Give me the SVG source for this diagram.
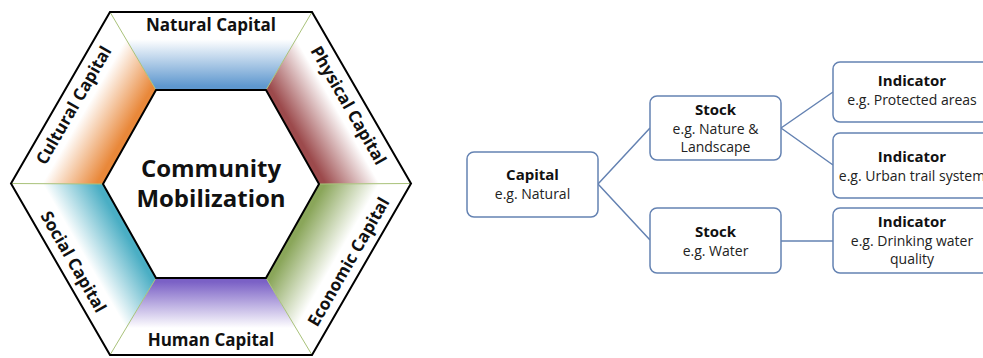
<svg xmlns="http://www.w3.org/2000/svg" width="983" height="358" viewBox="0 0 983 358">
<style>
.band{stroke:none}
.radial{stroke:#a9c27a;stroke-width:1;fill:none}
.hex{fill:none;stroke:#000;stroke-width:2;stroke-linejoin:miter}
.lbl{font-family:"Open Sans","Liberation Sans",sans-serif;font-weight:bold;font-size:17px;fill:#111;text-anchor:middle}
.big{font-family:"Open Sans","Liberation Sans",sans-serif;font-weight:bold;font-size:24px;fill:#111;text-anchor:middle}
.box{fill:#fff;stroke:#6482b2;stroke-width:1.5}
.conn{stroke:#6482b2;stroke-width:1.5;fill:none}
.t{font-family:"Open Sans","Liberation Sans",sans-serif;font-size:14px;fill:#222;text-anchor:middle}
.tb{font-family:"Open Sans","Liberation Sans",sans-serif;font-size:15px;font-weight:bold;fill:#111;text-anchor:middle}
</style>
<defs>
<linearGradient id="gTop" gradientUnits="userSpaceOnUse" x1="211" y1="12" x2="211" y2="90"><stop offset="0" stop-color="#fff"/><stop offset="0.35" stop-color="#fff"/><stop offset="0.95" stop-color="#5f98cf"/></linearGradient>
<linearGradient id="gTR" gradientUnits="userSpaceOnUse" x1="361.5" y1="97.75" x2="294" y2="136.75"><stop offset="0" stop-color="#fff"/><stop offset="0.35" stop-color="#fff"/><stop offset="0.95" stop-color="#9c4a4c"/></linearGradient>
<linearGradient id="gBR" gradientUnits="userSpaceOnUse" x1="361.5" y1="269.25" x2="294" y2="230.25"><stop offset="0" stop-color="#fff"/><stop offset="0.35" stop-color="#fff"/><stop offset="0.95" stop-color="#8aa65a"/></linearGradient>
<linearGradient id="gBot" gradientUnits="userSpaceOnUse" x1="211" y1="355" x2="211" y2="278"><stop offset="0" stop-color="#fff"/><stop offset="0.35" stop-color="#fff"/><stop offset="0.95" stop-color="#7b61c6"/></linearGradient>
<linearGradient id="gBL" gradientUnits="userSpaceOnUse" x1="60.5" y1="269.25" x2="128" y2="230.25"><stop offset="0" stop-color="#fff"/><stop offset="0.35" stop-color="#fff"/><stop offset="0.95" stop-color="#4aaec4"/></linearGradient>
<linearGradient id="gTL" gradientUnits="userSpaceOnUse" x1="60.5" y1="97.75" x2="128" y2="136.75"><stop offset="0" stop-color="#fff"/><stop offset="0.35" stop-color="#fff"/><stop offset="0.95" stop-color="#e9883a"/></linearGradient>
</defs>
<rect width="983" height="358" fill="#fff"/>
<g id="hexagon">
<g id="natural-capital">
<polygon class="band" fill="url(#gTop)" points="110,12 312,12 266,90 156,90"/>
<text class="lbl" x="211" y="31">Natural Capital</text>
</g>
<g id="physical-capital">
<polygon class="band" fill="url(#gTR)" points="312,12 411,183.5 319,184 266,90"/>
<text class="lbl" transform="translate(348.5,105.25) rotate(60)" x="0" y="6">Physical Capital</text>
</g>
<g id="economic-capital">
<polygon class="band" fill="url(#gBR)" points="411,183.5 312,355 266,278 319,184"/>
<text class="lbl" transform="translate(348.5,261.75) rotate(-60)" x="0" y="6">Economic Capital</text>
</g>
<g id="human-capital">
<polygon class="band" fill="url(#gBot)" points="312,355 110,355 156,278 266,278"/>
<text class="lbl" x="211" y="346">Human Capital</text>
</g>
<g id="social-capital">
<polygon class="band" fill="url(#gBL)" points="110,355 11,183.5 103,184 156,278"/>
<text class="lbl" transform="translate(73.5,261.75) rotate(60)" x="0" y="6">Social Capital</text>
</g>
<g id="cultural-capital">
<polygon class="band" fill="url(#gTL)" points="11,183.5 110,12 156,90 103,184"/>
<text class="lbl" transform="translate(73.5,105.25) rotate(-60)" x="0" y="6">Cultural Capital</text>
</g>
<g id="radials">
<path class="radial" d="M110,12 L156,90 M312,12 L266,90 M411,183.5 L319,184 M312,355 L266,278 M110,355 L156,278 M11,183.5 L103,184"/>
</g>
<polygon class="hex" points="110,12 312,12 411,183.5 312,355 110,355 11,183.5"/>
<g id="community-mobilization">
<polygon class="hex" fill="#fff" points="156,90 266,90 319,184 266,278 156,278 103,184"/>
<text class="big" x="211" y="177">Community</text>
<text class="big" x="211" y="207">Mobilization</text>
</g>
</g>
<g id="connectors">
<path class="conn" d="M598,184 L650,128 M598,184 L650,240 M781,128 L833,92 M781,128 L833,165 M781,241 L833,241"/>
</g>
<g id="capital">
<rect class="box" x="467" y="152" width="131" height="65" rx="7"/>
<text class="tb" x="532.5" y="180">Capital</text>
<text class="t" x="532.5" y="199">e.g. Natural</text>
</g>
<g id="stock-nature">
<rect class="box" x="650" y="96" width="131" height="64" rx="7"/>
<text class="tb" x="715.5" y="115">Stock</text>
<text class="t" x="715.5" y="134">e.g. Nature &amp;</text>
<text class="t" x="715.5" y="152">Landscape</text>
</g>
<g id="stock-water">
<rect class="box" x="650" y="208" width="131" height="65" rx="7"/>
<text class="tb" x="715.5" y="237">Stock</text>
<text class="t" x="715.5" y="256">e.g. Water</text>
</g>
<g id="indicator-protected">
<rect class="box" x="833" y="62" width="180" height="60" rx="7"/>
<text class="tb" x="912" y="86">Indicator</text>
<text class="t" x="912" y="105">e.g. Protected areas</text>
</g>
<g id="indicator-trail">
<rect class="box" x="833" y="133" width="180" height="65" rx="7"/>
<text class="tb" x="912" y="162">Indicator</text>
<text class="t" x="912" y="181">e.g. Urban trail system</text>
</g>
<g id="indicator-water">
<rect class="box" x="833" y="208" width="180" height="65" rx="7"/>
<text class="tb" x="912" y="227">Indicator</text>
<text class="t" x="912" y="246">e.g. Drinking water</text>
<text class="t" x="912" y="264">quality</text>
</g>
</svg>
